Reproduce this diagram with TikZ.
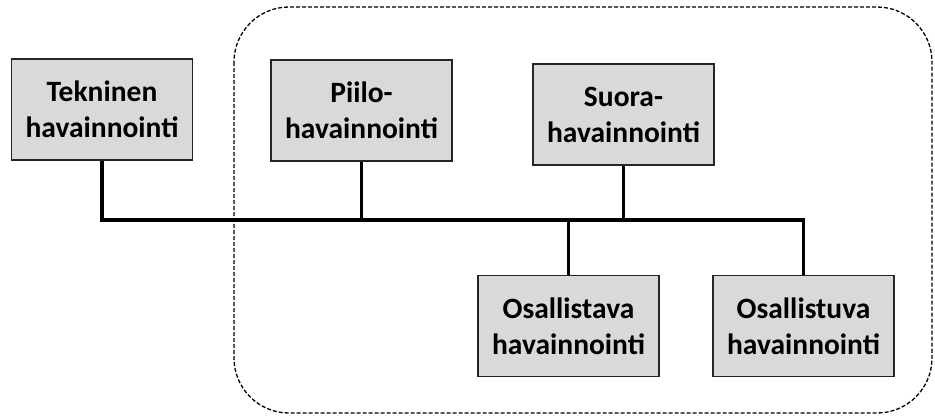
\documentclass[tikz,border=0pt]{standalone}
\usepackage{fontspec}
\setmainfont{Carlito}
\definecolor{boxfill}{HTML}{D9D9D9}
\definecolor{boxline}{HTML}{262626}
\begin{document}
\begin{tikzpicture}[x=1pt,y=-1pt,
  box/.style={draw=boxline, line width=1.8pt, fill=boxfill, minimum width=181pt, minimum height=101pt,
    inner sep=0pt, align=center, font=\fontsize{29.5}{36}\selectfont\bfseries},
  conn/.style={draw=black, line width=3.5pt},
  group/.style={draw=black, line width=1.3pt, dash pattern=on 4pt off 2pt, rounded corners=55pt}]
\useasboundingbox (0,0) rectangle (935,418);
\draw[group] (234,7) rectangle (932,413);
\node[box] (tek) at (102,109.5) {Tekninen\\havainnointi};
\node[box] (piilo) at (361.5,110.5) {Piilo-\\havainnointi};
\node[box] (suora) at (623.5,114.5) {Suora-\\havainnointi};
\node[box] (osta) at (568.5,326) {Osallistava\\havainnointi};
\node[box] (ostu) at (803.5,326) {Osallistuva\\havainnointi};
\coordinate (j1) at (102,220);
\coordinate (j2) at (803.5,220);
\draw[conn, line join=miter] (tek.south) -- (j1) -- (j2) -- (ostu.north);
\draw[conn] (piilo.south) -- (piilo.south |- j1);
\draw[conn] (suora.south) -- (suora.south |- j1);
\draw[conn] (osta.north) -- (osta.north |- j1);
\end{tikzpicture}
\end{document}
